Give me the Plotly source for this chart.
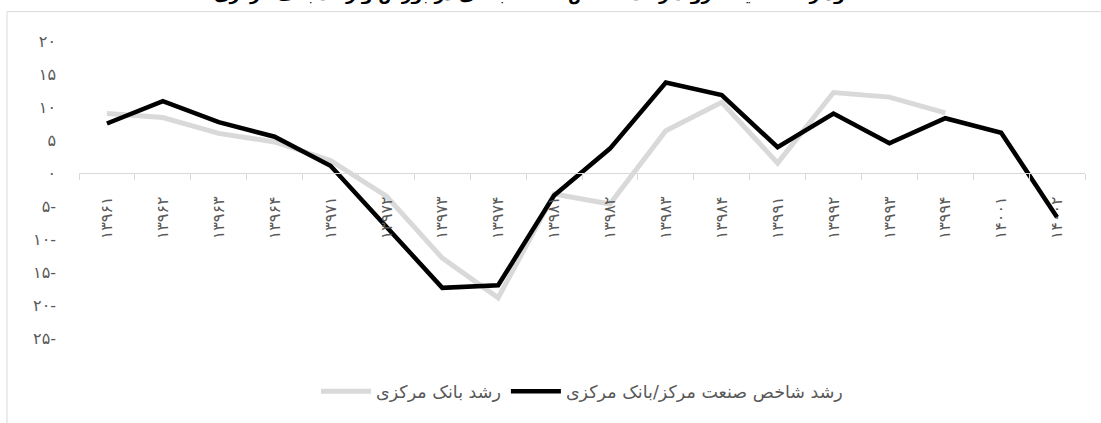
import plotly.graph_objects as go

categories = ["۱۳۹۶۱", "۱۳۹۶۲", "۱۳۹۶۳", "۱۳۹۶۴", "۱۳۹۷۱", "۱۳۹۷۲", "۱۳۹۷۳", "۱۳۹۷۴",
              "۱۳۹۸۱", "۱۳۹۸۲", "۱۳۹۸۳", "۱۳۹۸۴", "۱۳۹۹۱", "۱۳۹۹۲", "۱۳۹۹۳", "۱۳۹۹۴",
              "۱۴۰۰۱", "۱۴۰۰۲"]

central_bank = [9.0, 8.4, 6.0, 4.7, 1.9, -3.5, -12.9, -18.9, -3.2, -4.7, 6.4, 10.7,
                1.5, 12.2, 11.5, 9.1, None, None]

industry_index = [7.5, 10.9, 7.7, 5.5, 1.1, -8.2, -17.4, -17.0, -3.4, 3.7, 13.7, 11.8,
                  3.9, 9.0, 4.5, 8.3, 6.1, -6.7]

y_tickvals = [20, 15, 10, 5, 0, -5, -10, -15, -20, -25]
y_ticktext = ["۲۰", "۱۵", "۱۰", "۵", "۰", "۵-", "۱۰-", "۱۵-", "۲۰-", "۲۵-"]

series_names = ["رشد بانک مرکزی", "رشد شاخص صنعت مرکز/بانک مرکزی"]
title_text = "نمودار ۵- مقایسه روند رشد شاخص صنعت بانکی در بورس و رشد بانک مرکزی"

FONT = "DejaVu Sans"
TXT = "#595959"

fig = go.Figure()
fig.add_trace(go.Scatter(x=categories, y=central_bank, mode="lines", name=series_names[0],
                         line=dict(color="#d9d9d9", width=5), connectgaps=False))
fig.add_trace(go.Scatter(x=categories, y=industry_index, mode="lines", name=series_names[1],
                         line=dict(color="#000000", width=4.5)))

W, H = 1101, 423
L, R, T, B = 79, 16, 40.5, 84.5
ph = H - T - B
pw = W - L - R

def py(pix):
    return 1 + (T - pix) / ph

def px(pix):
    return (pix - L) / pw

fig.update_layout(
    width=W, height=H,
    margin=dict(l=L, r=R, t=T, b=B),
    paper_bgcolor="white", plot_bgcolor="white",
    font=dict(family=FONT, color=TXT, size=14),
    showlegend=True,
    legend=dict(orientation="h", x=0.5, xanchor="center", y=py(392), yanchor="middle",
                font=dict(size=17.5, color=TXT), traceorder="normal", itemwidth=50),
    xaxis=dict(type="category", anchor="free", position=25 / 45, range=[-0.5, 17.5],
               showline=True, linecolor="#d9d9d9", linewidth=1,
               ticks="outside", ticklen=6, tickcolor="#d9d9d9", tickson="boundaries",
               tickangle=-90, showgrid=False, zeroline=False,
               tickfont=dict(size=16, color=TXT), ticklabelstandoff=16),
    yaxis=dict(range=[-25, 20], tickvals=y_tickvals, ticktext=y_ticktext,
               showline=False, showgrid=False, zeroline=False,
               tickfont=dict(size=16, color=TXT), ticklabelstandoff=22),
    shapes=[dict(type="rect", xref="paper", yref="paper",
                 x0=px(7), x1=px(W + 20), y0=py(H + 20), y1=py(11),
                 line=dict(color="#d9d9d9", width=1), fillcolor="rgba(0,0,0,0)", layer="below")],
    annotations=[dict(text="<b>" + title_text + "</b>", xref="paper", yref="paper",
                      x=px(538), y=py(-6), xanchor="center", yanchor="middle",
                      showarrow=False, font=dict(size=17, color="black", family=FONT))],
)

fig.write_html("out.html", config={"displayModeBar": False},
               post_script="document.body.style.margin='0';document.body.style.overflow='hidden';")
